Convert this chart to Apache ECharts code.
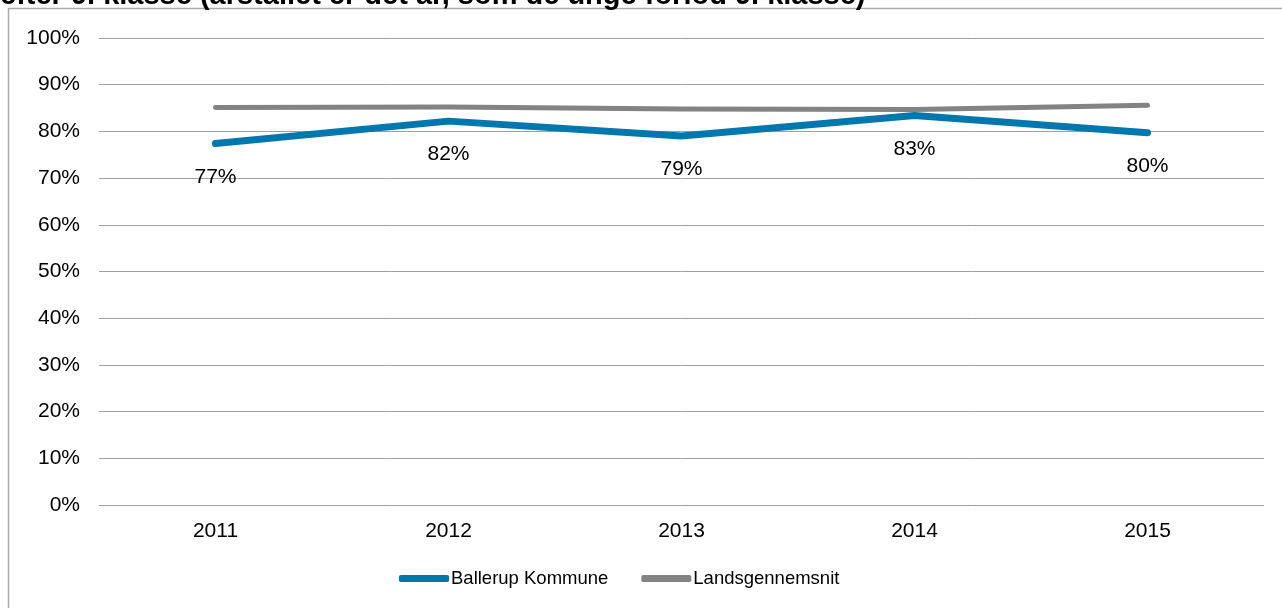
<!DOCTYPE html>
<html lang="da">
<head>
    <meta charset="UTF-8">
    <title>Ballerup Kommune</title>
    <script src="https://cdn.jsdelivr.net/npm/echarts@6/dist/echarts.min.js"></script>
    <style>
        html, body { margin: 0; padding: 0; background: #fff; }
        #main { width: 1282px; height: 608px; }
    </style>
</head>
<body>
<div id="main"></div>
<script type="text/javascript">
    // data
    var years = ['2011', '2012', '2013', '2014', '2015'];
    var ballerup = [77.4, 82.2, 79.0, 83.4, 79.7];
    var landsgennemsnit = [85.1, 85.2, 84.8, 84.7, 85.6];
    var seriesNames = ['Ballerup Kommune', 'Landsgennemsnit'];
    var titleText = 'efter 9. klasse (årstallet er det år, som de unge forlod 9. klasse)';

    var myChart = echarts.init(document.getElementById('main'));
    var font = 'Liberation Sans, Arial, sans-serif';

    var option = {
        animation: false,
        backgroundColor: '#fff',
        graphic: [
            {
                type: 'rect',
                shape: { x: 8.5, y: 8.5, width: 1290, height: 620 },
                style: { fill: 'none', stroke: '#ababab', lineWidth: 1.5 },
                z: 0
            },
            {
                type: 'text',
                x: 0,
                y: 10,
                style: {
                    text: titleText,
                    font: 'bold 29px ' + font,
                    fill: '#000',
                    verticalAlign: 'bottom'
                }
            }
        ],
        grid: { left: 99, right: 18, top: 38, bottom: 103 },
        legend: {
            bottom: 15,
            left: 394,
            data: seriesNames,
            icon: 'roundRect',
            itemWidth: 50,
            itemHeight: 7,
            itemGap: 33,
            textStyle: { fontFamily: font, fontSize: 18.5, color: '#000', padding: [0, 0, 0, -3] }
        },
        xAxis: {
            type: 'category',
            data: years,
            axisLine: { show: false },
            axisTick: { show: false },
            axisLabel: { margin: 16, fontFamily: font, fontSize: 21, color: '#000' }
        },
        yAxis: {
            type: 'value',
            min: 0,
            max: 100,
            interval: 10,
            axisLine: { show: false },
            axisTick: { show: false },
            axisLabel: {
                margin: 19,
                formatter: '{value}%',
                fontFamily: font, fontSize: 21, color: '#000'
            },
            splitLine: { lineStyle: { color: '#a0a0a0', width: 1 } }
        },
        series: [
            {
                name: seriesNames[0],
                type: 'line',
                data: ballerup,
                symbol: 'circle',
                symbolSize: 0.1,
                color: '#0078ae',
                lineStyle: { width: 7, color: '#0078ae', cap: 'round', join: 'round' },
                label: {
                    show: true,
                    position: 'bottom',
                    distance: 23,
                    formatter: function (p) { return Math.round(p.value) + '%'; },
                    fontFamily: font, fontSize: 21, color: '#000'
                },
                z: 3
            },
            {
                name: seriesNames[1],
                type: 'line',
                data: landsgennemsnit,
                symbol: 'none',
                color: '#838383',
                lineStyle: { width: 5, color: '#838383', cap: 'round', join: 'round' },
                z: 2
            }
        ]
    };

    myChart.setOption(option);
</script>
</body>
</html>
